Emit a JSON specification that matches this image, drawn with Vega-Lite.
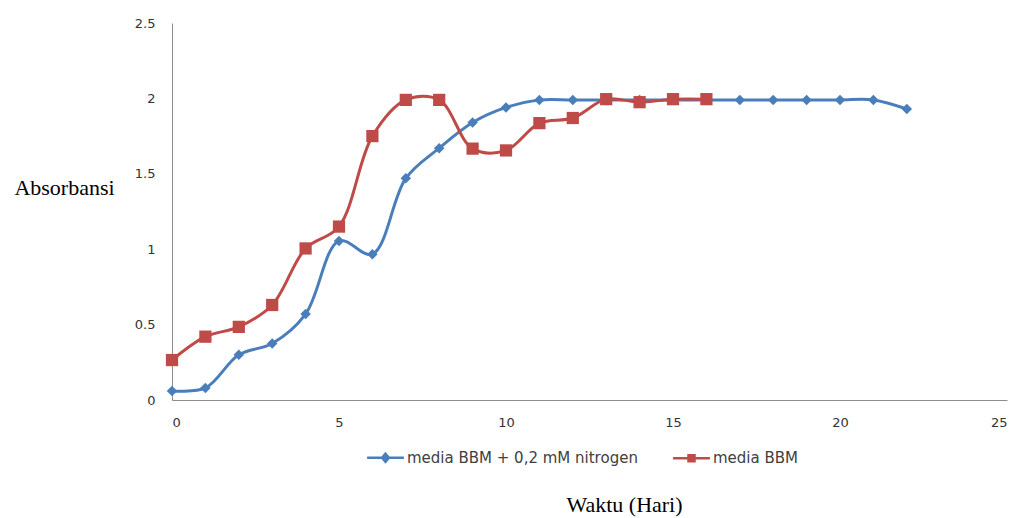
{
  "$schema": "https://vega.github.io/schema/vega-lite/v6.json",
  "width": 835,
  "height": 377,
  "autosize": {"type": "none"},
  "padding": {"left": 172, "top": 23, "right": 12, "bottom": 118},
  "background": "white",
  "config": {"view": {"stroke": null}},
  "data": {
    "values": [
      {"hari": 0, "absorbansi": 0.06, "seri": "media BBM + 0,2 mM nitrogen"},
      {"hari": 1, "absorbansi": 0.08, "seri": "media BBM + 0,2 mM nitrogen"},
      {"hari": 2, "absorbansi": 0.30, "seri": "media BBM + 0,2 mM nitrogen"},
      {"hari": 3, "absorbansi": 0.375, "seri": "media BBM + 0,2 mM nitrogen"},
      {"hari": 4, "absorbansi": 0.57, "seri": "media BBM + 0,2 mM nitrogen"},
      {"hari": 5, "absorbansi": 1.055, "seri": "media BBM + 0,2 mM nitrogen"},
      {"hari": 6, "absorbansi": 0.967, "seri": "media BBM + 0,2 mM nitrogen"},
      {"hari": 7, "absorbansi": 1.47, "seri": "media BBM + 0,2 mM nitrogen"},
      {"hari": 8, "absorbansi": 1.67, "seri": "media BBM + 0,2 mM nitrogen"},
      {"hari": 9, "absorbansi": 1.84, "seri": "media BBM + 0,2 mM nitrogen"},
      {"hari": 10, "absorbansi": 1.94, "seri": "media BBM + 0,2 mM nitrogen"},
      {"hari": 11, "absorbansi": 1.99, "seri": "media BBM + 0,2 mM nitrogen"},
      {"hari": 12, "absorbansi": 1.99, "seri": "media BBM + 0,2 mM nitrogen"},
      {"hari": 13, "absorbansi": 1.99, "seri": "media BBM + 0,2 mM nitrogen"},
      {"hari": 14, "absorbansi": 1.99, "seri": "media BBM + 0,2 mM nitrogen"},
      {"hari": 15, "absorbansi": 1.99, "seri": "media BBM + 0,2 mM nitrogen"},
      {"hari": 16, "absorbansi": 1.99, "seri": "media BBM + 0,2 mM nitrogen"},
      {"hari": 17, "absorbansi": 1.99, "seri": "media BBM + 0,2 mM nitrogen"},
      {"hari": 18, "absorbansi": 1.99, "seri": "media BBM + 0,2 mM nitrogen"},
      {"hari": 19, "absorbansi": 1.99, "seri": "media BBM + 0,2 mM nitrogen"},
      {"hari": 20, "absorbansi": 1.99, "seri": "media BBM + 0,2 mM nitrogen"},
      {"hari": 21, "absorbansi": 1.99, "seri": "media BBM + 0,2 mM nitrogen"},
      {"hari": 22, "absorbansi": 1.93, "seri": "media BBM + 0,2 mM nitrogen"},
      {"hari": 0, "absorbansi": 0.265, "seri": "media BBM"},
      {"hari": 1, "absorbansi": 0.42, "seri": "media BBM"},
      {"hari": 2, "absorbansi": 0.485, "seri": "media BBM"},
      {"hari": 3, "absorbansi": 0.63, "seri": "media BBM"},
      {"hari": 4, "absorbansi": 1.005, "seri": "media BBM"},
      {"hari": 5, "absorbansi": 1.15, "seri": "media BBM"},
      {"hari": 6, "absorbansi": 1.75, "seri": "media BBM"},
      {"hari": 7, "absorbansi": 1.99, "seri": "media BBM"},
      {"hari": 8, "absorbansi": 1.99, "seri": "media BBM"},
      {"hari": 9, "absorbansi": 1.667, "seri": "media BBM"},
      {"hari": 10, "absorbansi": 1.655, "seri": "media BBM"},
      {"hari": 11, "absorbansi": 1.836, "seri": "media BBM"},
      {"hari": 12, "absorbansi": 1.87, "seri": "media BBM"},
      {"hari": 13, "absorbansi": 1.995, "seri": "media BBM"},
      {"hari": 14, "absorbansi": 1.975, "seri": "media BBM"},
      {"hari": 15, "absorbansi": 1.995, "seri": "media BBM"},
      {"hari": 16, "absorbansi": 1.995, "seri": "media BBM"}
    ]
  },
  "encoding": {
    "x": {
      "field": "hari",
      "type": "quantitative",
      "scale": {"domain": [0, 25], "nice": false, "zero": true},
      "axis": {
        "values": [0, 5, 10, 15, 20, 25],
        "grid": false,
        "ticks": false,
        "domainColor": "#8c8c8c",
        "domainWidth": 1,
        "labelFont": "DejaVu Sans",
        "labelFontSize": 13,
        "labelColor": "#333333",
        "labelPadding": 16,
        "labelExpr": "'' + datum.value",
        "title": "Waktu (Hari)",
        "titleFont": "Liberation Serif",
        "titleFontSize": 22,
        "titleFontWeight": "normal",
        "titleColor": "#000000",
        "titleAnchor": "start",
        "titleAlign": "center",
        "titleBaseline": "middle",
        "titleX": 452,
        "titleY": 104
      }
    },
    "y": {
      "field": "absorbansi",
      "type": "quantitative",
      "scale": {"domain": [0, 2.5], "nice": false},
      "axis": {
        "values": [0, 0.5, 1, 1.5, 2, 2.5],
        "grid": false,
        "ticks": false,
        "domainColor": "#8c8c8c",
        "domainWidth": 1,
        "labelFont": "DejaVu Sans",
        "labelFontSize": 13,
        "labelColor": "#333333",
        "labelPadding": 17,
        "labelExpr": "'' + datum.value",
        "title": "Absorbansi",
        "titleAngle": 0,
        "titleFont": "Liberation Serif",
        "titleFontSize": 22,
        "titleFontWeight": "normal",
        "titleColor": "#000000",
        "titleAlign": "center",
        "titleBaseline": "middle",
        "titleX": -108,
        "titleY": 164
      }
    },
    "color": {
      "field": "seri",
      "type": "nominal",
      "scale": {
        "domain": ["media BBM + 0,2 mM nitrogen", "media BBM"],
        "range": ["#4a7ebb", "#be4b48"]
      },
      "legend": {
        "orient": "none",
        "legendX": 192,
        "legendY": 413,
        "direction": "horizontal",
        "title": null,
        "symbolSize": 1600,
        "symbolType": "M-0.92,0H0.92M0,-0.22L0.2,0L0,0.22L-0.2,0Z",
        "symbolStrokeWidth": 2.5,
        "labelFont": "DejaVu Sans",
        "labelFontSize": 15,
        "labelColor": "#404040",
        "labelLimit": 0,
        "labelOffset": 0,
        "columnPadding": 30,
        "encoding": {
          "symbols": {
            "shape": {"value": {"expr": "datum.value === 'media BBM' ? 'M-0.92,0H0.92M-0.15,-0.15H0.15V0.15H-0.15Z' : 'M-0.92,0H0.92M0,-0.2L0.17,0L0,0.2L-0.17,0Z'"}},
            "fill": {"value": {"expr": "scale('color', datum.value)"}},
            "stroke": {"value": {"expr": "scale('color', datum.value)"}},
            "strokeWidth": {"value": 2.5},
            "opacity": {"value": 1},
            "fillOpacity": {"value": 1},
            "strokeOpacity": {"value": 1}
          }
        }
      }
    }
  },
  "layer": [
    {
      "mark": {"type": "line", "interpolate": "catmull-rom", "strokeWidth": 3}
    },
    {
      "transform": [{"filter": "datum.seri === 'media BBM + 0,2 mM nitrogen'"}],
      "mark": {"type": "point", "shape": "diamond", "size": 110, "filled": true, "opacity": 1}
    },
    {
      "transform": [{"filter": "datum.seri === 'media BBM'"}],
      "mark": {"type": "point", "shape": "square", "size": 150, "filled": true, "opacity": 1}
    }
  ]
}
